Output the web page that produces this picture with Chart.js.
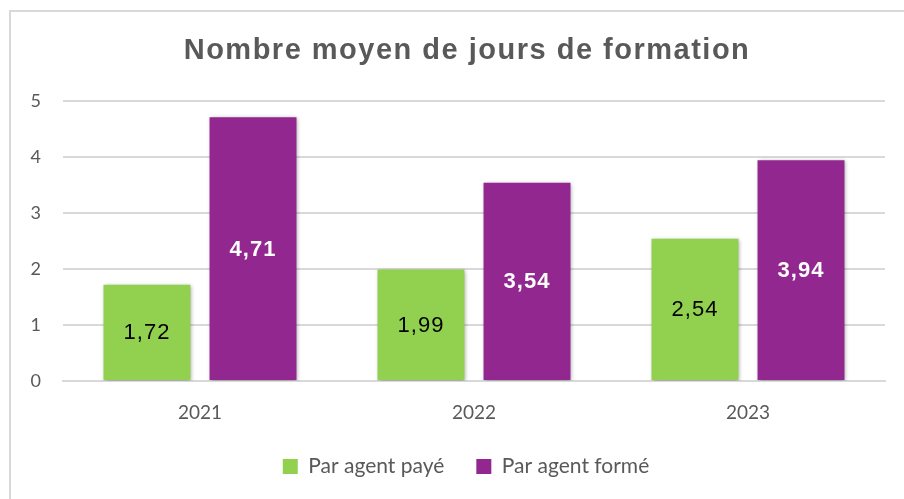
<!DOCTYPE html>
<html>
<head>
<meta charset="utf-8">
<script src="https://cdn.jsdelivr.net/npm/chart.js@4"></script>
<style>
  body{margin:0;background:#fff;}
  #wrap{width:904px;height:499px;position:relative;}
</style>
</head>
<body>
<div id="wrap"><canvas id="myChart"></canvas></div>
<script>
// données du graphique
const titre = 'Nombre moyen de jours de formation';
const annees = ['2021', '2022', '2023'];
const parAgentPaye = [1.72, 1.99, 2.54];
const parAgentForme = [4.71, 3.54, 3.94];
const yTicks = [0, 1, 2, 3, 4, 5];

const ctx = document.getElementById('myChart');

// cadre gris en haut et à gauche + titre (espacement des lettres comme Excel)
const cadre = {
  id: 'cadre',
  beforeDraw(chart){
    const c = chart.ctx;
    c.save();
    c.fillStyle = '#fff';
    c.fillRect(0, 0, chart.width, chart.height);
    c.strokeStyle = '#d9d9d9';
    c.lineWidth = 2;
    c.beginPath();
    c.moveTo(10, chart.height);
    c.lineTo(10, 11);
    c.lineTo(chart.width, 11);
    c.stroke();

    c.fillStyle = '#595959';
    c.font = 'bold 29px "Liberation Sans", Arial, sans-serif';
    c.letterSpacing = '1.5px';
    c.textAlign = 'center';
    c.textBaseline = 'middle';
    c.fillText(titre, 467, 51);
    c.restore();
  },
  // légende un peu décalée à droite comme dans Excel
  afterLayout(chart){
    chart.legend.left += 12;
    chart.legend.right += 12;
  }
};

// ombre légère sous les barres
const ombre = {
  id: 'ombre',
  beforeDatasetsDraw(chart){
    const c = chart.ctx;
    c.save();
    c.shadowColor = 'rgba(0,0,0,0.35)';
    c.shadowBlur = 4;
    c.shadowOffsetX = 1;
    c.shadowOffsetY = 1;
  },
  afterDatasetsDraw(chart){
    chart.ctx.restore();
  }
};

// étiquettes de valeur au centre des barres (virgule décimale)
const etiquettes = {
  id: 'etiquettes',
  afterDatasetsDraw(chart){
    const c = chart.ctx;
    c.save();
    c.textAlign = 'center';
    c.textBaseline = 'middle';
    c.letterSpacing = '1px';
    chart.data.datasets.forEach((ds, i) => {
      chart.getDatasetMeta(i).data.forEach((bar, j) => {
        const v = ds.data[j].toFixed(2).replace('.', ',');
        if(i === 0){
          c.fillStyle = '#000';
          c.font = '22px "Liberation Sans", Arial, sans-serif';
        }else{
          c.fillStyle = '#fff';
          c.font = 'bold 22px "Liberation Sans", Arial, sans-serif';
        }
        c.fillText(v, bar.x, (bar.y + bar.base) / 2 + 1);
      });
    });
    c.restore();
  }
};

new Chart(ctx, {
  type: 'bar',
  data: {
    labels: annees,
    datasets: [{
      label: 'Par agent payé',
      data: parAgentPaye,
      backgroundColor: '#92D050',
      borderWidth: 0
    },{
      label: 'Par agent formé',
      data: parAgentForme,
      backgroundColor: '#92278F',
      borderWidth: 0
    }]
  },
  options: {
    responsive: true,
    maintainAspectRatio: false,
    animation: false,
    categoryPercentage: 0.774,
    barPercentage: 0.82,
    layout: { padding: { left: 23, right: 19, top: 101, bottom: 12 } },
    plugins: {
      title: { display: false },
      legend: {
        position: 'bottom',
        labels: {
          color: '#595959',
          font: { family: 'Lato, sans-serif', size: 21 },
          boxWidth: 15,
          boxHeight: 15,
          padding: 32
        }
      },
      tooltip: { enabled: false }
    },
    scales: {
      x: {
        grid: { display: false },
        border: { color: '#d9d9d9', width: 2 },
        ticks: { color: '#595959', font: { family: 'Lato, sans-serif', size: 19 }, padding: 12 },
        afterFit: s => { s.height = 43; }
      },
      y: {
        min: 0,
        max: 5,
        afterBuildTicks: s => { s.ticks = yTicks.map(v => ({ value: v })); },
        grid: { color: '#d9d9d9', lineWidth: 2, drawTicks: false },
        border: { display: false },
        ticks: { color: '#595959', font: { family: 'Lato, sans-serif', size: 18 }, padding: 22 },
        afterFit: s => { s.width = 40; }
      }
    }
  },
  plugins: [cadre, ombre, etiquettes]
});
</script>
</body>
</html>
